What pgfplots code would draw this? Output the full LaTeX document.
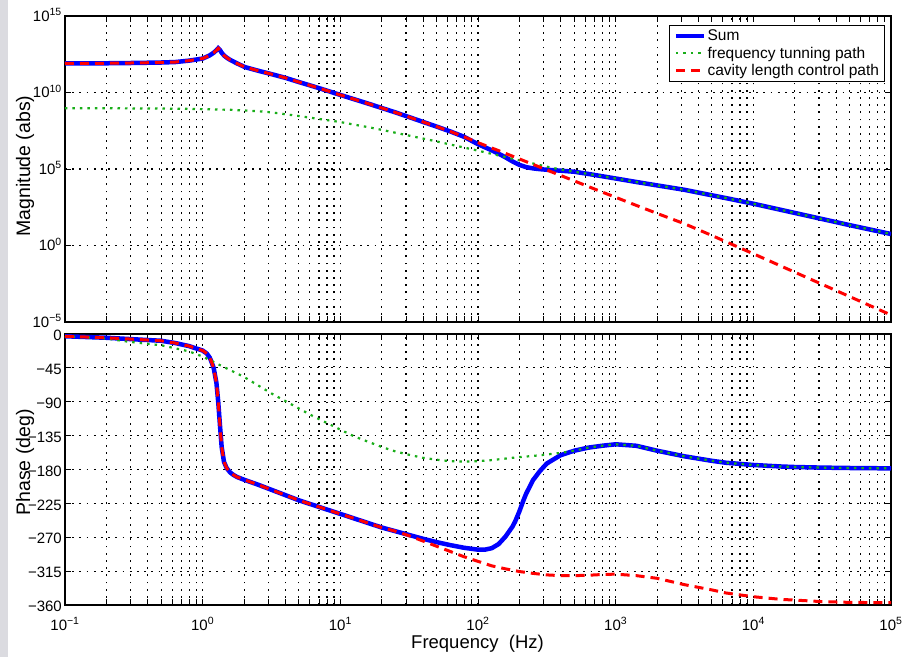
\documentclass[border=0pt]{standalone}
\usepackage{fontspec}
\setmainfont{Liberation Sans}
\usepackage{pgfplots}
\pgfplotsset{compat=1.18}
\definecolor{mblue}{rgb}{0,0,1}
\definecolor{mred}{rgb}{1,0,0}
\definecolor{mgreen}{rgb}{0.1,0.68,0.1}
\definecolor{sidegray}{rgb}{0.86,0.86,0.88}
\begin{document}
\begin{tikzpicture}
\path[use as bounding box] (0,0) rectangle (910pt,657pt);
\fill[sidegray] (0,0) rectangle (8pt,657pt);

% ---------- Magnitude ----------
\begin{axis}[scale only axis, anchor=south west, width=826pt, height=306pt, at={(65pt,335pt)},
  xmode=log, xmin=0.1, xmax=100000,
  xtick={0.1,1,10,100,1000,10000,100000},
  axis line style={black, line width=1.1pt},
  tick align=inside, xtick pos=both, ytick pos=both,
  major tick length=6pt, minor tick length=6pt,
  tick style={black, line width=0.8pt},
  xmajorgrids=true, xminorgrids=true, ymajorgrids=true,
  major grid style={black, line width=1.15pt, dash pattern=on 1.8pt off 5.4pt},
  minor grid style={black, line width=1.15pt, dash pattern=on 1.8pt off 5.4pt},
  tick label style={font=\fontsize{15}{17}\selectfont},
  yticklabel style={inner sep=0pt, xshift=-3pt, yshift=1pt},
  ymin=-5, ymax=15, ytick={-5,0,5,10,15},
  yticklabels={10\textsuperscript{−5},10\textsuperscript{0},10\textsuperscript{5},10\textsuperscript{10},10\textsuperscript{15}},
  xticklabels={},
  legend image code/.code={\draw[#1] (0pt,0pt) -- (28pt,0pt);},
  legend cell align=left,
  legend style={at={(1,1)}, anchor=north east, xshift=-6pt, yshift=-9pt,
    font=\fontsize{15.5}{17}\selectfont, draw=black, line width=1pt, fill=white,
    inner xsep=4pt, inner ysep=3pt, row sep=1.5pt, nodes={inner sep=1.5pt}},
]
\addplot[color=mblue, line width=4.5pt] coordinates {
(0.1,11.90) (0.2,11.91) (0.316,11.93) (0.5,11.96) (0.631,11.99) (0.794,12.08) (1,12.22)
(1.122,12.42) (1.202,12.6) (1.259,12.76) (1.297,12.89) (1.334,12.78) (1.374,12.6) (1.429,12.42)
(1.493,12.28) (1.585,12.13) (1.778,11.9) (2.028,11.66) (2.512,11.43) (3.162,11.2) (3.981,10.96)
(5.012,10.68) (6.31,10.41) (7.943,10.13) (10,9.84) (12.59,9.56) (15.85,9.28) (19.95,8.99)
(25.12,8.7) (31.62,8.39) (39.81,8.08) (50.12,7.77) (63.1,7.45) (79.43,7.1) (100,6.62)
(112.2,6.42) (125.9,6.22) (141.3,6.0) (158.5,5.76) (177.8,5.5) (199.5,5.27) (223.9,5.12)
(251.2,5.04) (281.8,4.99) (316.2,4.95) (398.1,4.89) (501.2,4.82) (631,4.68) (794.3,4.53)
(1000,4.38) (1413,4.15) (1995,3.93) (3162,3.64) (5012,3.28) (6310,3.1) (10000,2.73)
(15850,2.33) (19950,2.13) (31620,1.73) (50120,1.33) (100000,0.75)
};
\addlegendentry{Sum}
\addplot[color=mgreen, line width=2.2pt, dash pattern=on 2.5pt off 5pt] coordinates {
(0.1,8.97) (0.2,8.97) (0.316,8.96) (0.5,8.95) (0.794,8.93) (1,8.91) (1.585,8.87) (2.512,8.78)
(3.162,8.7) (3.981,8.58) (5.012,8.46) (6.31,8.33) (7.943,8.2) (10,8.07) (12.59,7.9) (15.85,7.74)
(19.95,7.56) (25.12,7.37) (31.62,7.18) (39.81,6.99) (50.12,6.8) (63.1,6.6) (79.43,6.4) (100,6.2)
(125.9,5.99) (158.5,5.78) (199.5,5.57) (251.2,5.36) (316.2,5.15) (398.1,4.97) (501.2,4.82)
(631,4.68) (794.3,4.53) (1000,4.38) (1413,4.15) (1995,3.93) (3162,3.64) (5012,3.28) (6310,3.1)
(10000,2.73) (15850,2.33) (19950,2.13) (31620,1.73) (50120,1.33) (100000,0.75)
};
\addlegendentry{frequency tunning path}
\addplot[color=mred, line width=3pt, dash pattern=on 9pt off 6pt] coordinates {
(0.1,11.90) (0.2,11.91) (0.316,11.93) (0.5,11.96) (0.631,11.99) (0.794,12.08) (1,12.22)
(1.122,12.42) (1.202,12.6) (1.259,12.76) (1.297,12.89) (1.334,12.78) (1.374,12.6) (1.429,12.42)
(1.493,12.28) (1.585,12.13) (1.778,11.9) (2.028,11.66) (2.512,11.43) (3.162,11.2) (3.981,10.96)
(5.012,10.68) (6.31,10.41) (7.943,10.13) (10,9.84) (12.59,9.56) (15.85,9.28) (19.95,8.99)
(25.12,8.7) (31.62,8.39) (39.81,8.08) (50.12,7.77) (63.1,7.45) (79.43,7.1) (100,6.72)
(112.2,6.55) (125.9,6.37) (141.3,6.2) (158.5,6.02) (177.8,5.84) (199.5,5.66) (223.9,5.48)
(251.2,5.3) (281.8,5.12) (316.2,4.93) (398.1,4.58) (501.2,4.22) (631,3.86) (794.3,3.5)
(1000,3.15) (1413,2.62) (1995,2.1) (3162,1.42) (5012,0.65) (6310,0.25) (10000,-0.54)
(15850,-1.34) (19950,-1.74) (31620,-2.54) (50120,-3.34) (100000,-4.54)
};
\addlegendentry{cavity length control path}
\end{axis}

% ---------- Phase ----------
\begin{axis}[scale only axis, anchor=south west, width=826pt, height=271pt, at={(65pt,52pt)},
  xmode=log, xmin=0.1, xmax=100000,
  xtick={0.1,1,10,100,1000,10000,100000},
  axis line style={black, line width=1.1pt},
  tick align=inside, xtick pos=both, ytick pos=both,
  major tick length=6pt, minor tick length=6pt,
  tick style={black, line width=0.8pt},
  xmajorgrids=true, xminorgrids=true, ymajorgrids=true,
  major grid style={black, line width=1.15pt, dash pattern=on 1.8pt off 5.4pt},
  minor grid style={black, line width=1.15pt, dash pattern=on 1.8pt off 5.4pt},
  tick label style={font=\fontsize{15}{17}\selectfont},
  yticklabel style={inner sep=0pt, xshift=-3pt, yshift=-1.5pt},
  xticklabel style={anchor=base, inner sep=0pt, yshift=-25pt},
  ymin=-360, ymax=0, ytick={-360,-315,-270,-225,-180,-135,-90,-45,0},
  yticklabels={−360,−315,−270,−225,−180,−135,−90,−45,0},
  xticklabels={10\textsuperscript{−1},10\textsuperscript{0},10\textsuperscript{1},10\textsuperscript{2},10\textsuperscript{3},10\textsuperscript{4},10\textsuperscript{5}},
]
\addplot[color=mblue, line width=4.5pt] coordinates {
(0.1,-3) (0.2,-5) (0.316,-7) (0.5,-9) (0.631,-12) (0.794,-16) (1,-22) (1.072,-26) (1.122,-31)
(1.148,-35) (1.202,-45) (1.259,-65) (1.297,-90) (1.334,-120) (1.374,-150) (1.429,-170)
(1.493,-178) (1.585,-184) (1.667,-187) (1.778,-190) (2.028,-194) (2.512,-200) (3.162,-207)
(3.981,-214) (5.012,-221) (6.31,-227) (7.943,-233) (10,-239) (12.59,-245) (15.85,-251)
(19.95,-257) (25.12,-262) (31.62,-267) (39.81,-272) (50.12,-276.5) (63.1,-280.5) (79.43,-284)
(100,-286.5) (112.2,-286.5) (125.9,-284.5) (141.3,-279) (158.5,-269) (177.8,-256) (186.2,-249)
(199.5,-236) (213.8,-221) (223.9,-212) (251.2,-194) (281.8,-182) (316.2,-172) (398.1,-161)
(501.2,-155) (631,-151) (794.3,-148.5) (1000,-146.5) (1413,-148.5) (1995,-155) (3162,-162.5)
(5012,-168.5) (6310,-171) (10000,-174) (15850,-176) (19950,-176.7) (31620,-177.5)
(50120,-178) (100000,-178.5)
};
\addplot[color=mgreen, line width=2.2pt, dash pattern=on 2.5pt off 5pt] coordinates {
(0.1,-3) (0.2,-6) (0.282,-10) (0.5,-15) (0.631,-19) (0.794,-23) (1,-30) (1.259,-39) (1.585,-48)
(1.995,-57) (2.512,-68) (3.162,-79) (3.981,-89) (5.012,-99) (6.31,-109) (7.943,-118) (10,-127)
(12.59,-136) (15.85,-143) (19.95,-150) (25.12,-156) (31.62,-160.5) (39.81,-164.5) (50.12,-167)
(63.1,-169) (79.43,-169.5) (100,-169) (125.9,-167.5) (158.5,-165.5) (199.5,-163.5) (251.2,-162)
(316.2,-160) (398.1,-158) (501.2,-155) (631,-151) (794.3,-148.5) (1000,-146.5) (1413,-148.5)
(1995,-155) (3162,-162.5) (5012,-168.5) (6310,-171) (10000,-174) (15850,-176) (19950,-176.7)
(31620,-177.5) (50120,-178) (100000,-178.5)
};
\addplot[color=mred, line width=3pt, dash pattern=on 9pt off 6pt] coordinates {
(0.1,-3) (0.2,-5) (0.316,-7) (0.5,-9) (0.631,-12) (0.794,-16) (1,-22) (1.072,-26) (1.122,-31)
(1.148,-35) (1.202,-45) (1.259,-65) (1.297,-90) (1.334,-120) (1.374,-150) (1.429,-170)
(1.493,-178) (1.585,-184) (1.667,-187) (1.778,-190) (2.028,-194) (2.512,-200) (3.162,-207)
(3.981,-214) (5.012,-221) (6.31,-227) (7.943,-233) (10,-239) (12.59,-245) (15.85,-251)
(19.95,-257) (25.12,-262) (31.62,-268) (39.81,-275) (50.12,-282) (63.1,-289) (79.43,-296)
(100,-302) (112.2,-305) (125.9,-308) (158.5,-312) (199.5,-315.5) (251.2,-318) (316.2,-320)
(398.1,-321) (501.2,-321) (631,-320.5) (794.3,-319.5) (1000,-319) (1413,-321) (1995,-324.5)
(3162,-333) (5012,-340) (6310,-344) (10000,-349) (15850,-352.5) (19950,-353.5) (31620,-355.5)
(50120,-356.5) (100000,-357)
};
\end{axis}

\node[rotate=90, anchor=base, font=\fontsize{19.5}{22}\selectfont] at (30pt,491pt) {Magnitude (abs)};
\node[rotate=90, anchor=base, font=\fontsize{19.5}{22}\selectfont] at (30pt,194.5pt) {Phase (deg)};
\node[anchor=base, font=\fontsize{18.5}{21}\selectfont] at (477.5pt,9pt) {Frequency\ \ (Hz)};
\end{tikzpicture}
\end{document}
